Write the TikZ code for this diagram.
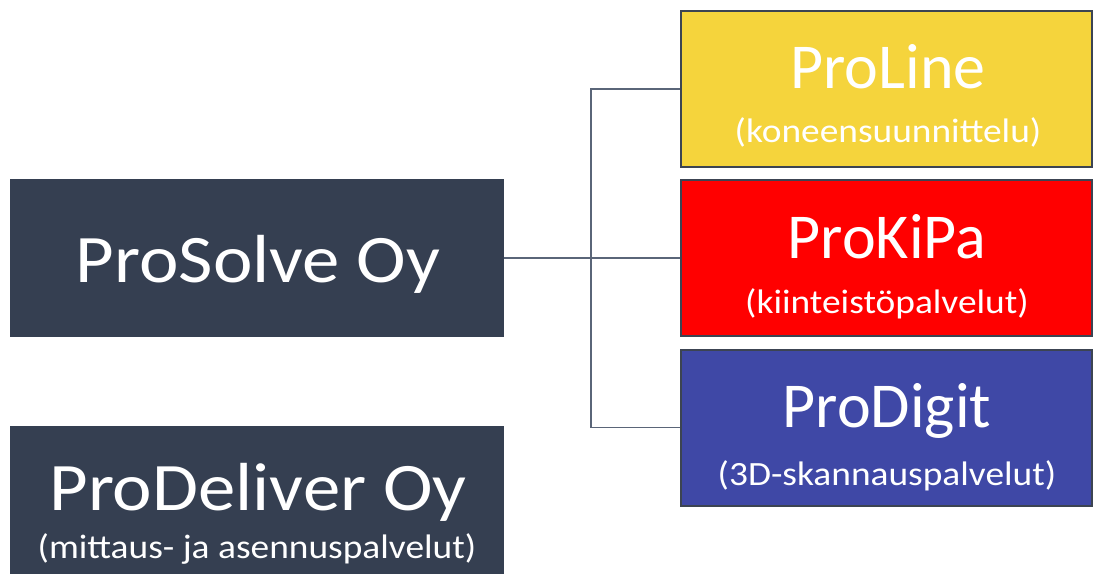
\documentclass[tikz,border=0pt]{standalone}
\usepackage{fontspec}
\setmainfont{Carlito}
\newfontfamily\widecarlito[FakeStretch=1.1]{Carlito}
\usepackage{xcolor}
\usepackage{tikz}

\definecolor{slate}{HTML}{353F51}
\definecolor{frame}{HTML}{3C4452}
\definecolor{wire}{HTML}{5A6578}
\definecolor{lineyellow}{HTML}{F5D43C}
\definecolor{kipared}{HTML}{FF0000}
\definecolor{digitblue}{HTML}{3F48A6}

\begin{document}
\begin{tikzpicture}[x=1pt,y=-1pt,
	company/.style={fill=slate, inner sep=0pt, minimum width=494pt, minimum height=158pt},
	unit/.style={draw=frame, line width=2pt, inner sep=0pt, minimum width=411pt, minimum height=156pt},
	bigname/.style={white, anchor=base, inner sep=0pt, font=\widecarlito\fontsize{68}{72}\selectfont},
	unitname/.style={white, anchor=base, inner sep=0pt, font=\fontsize{64}{70}\selectfont},
	subname/.style={white, anchor=base, inner sep=0pt, font=\widecarlito\fontsize{34}{40}\selectfont},
	wiring/.style={draw=wire, line width=1.5pt}]
		\useasboundingbox (0,0) rectangle (1094,573);
		\clip (0,0) rectangle (1094,573);
		
		% companies
		\node[company] (prosolve) at (257,258) {};
		\node[company] (prodeliver) at (257,505) {};
		\node[bigname] (solvename) at (258,282) {ProSolve Oy};
		\node[bigname] (delivername) at (258,510) {ProDeliver Oy};
		\node[subname] (deliversub) at (257,558) {(mittaus- ja asennuspalvelut)};
		
		% units
		\node[unit, fill=lineyellow] (proline) at (886.5,89) {};
		\node[unit, fill=kipared] (prokipa) at (886.5,258) {};
		\node[unit, fill=digitblue] (prodigit) at (886.5,427.5) {};
		\node[unitname] (linename) at (888,88) {ProLine};
		\node[subname] (linesub) at (888,142) {(koneensuunnittelu)};
		\node[unitname] (kipaname) at (887,258) {ProKiPa};
		\node[subname] (kipasub) at (887,313) {(kiinteistöpalvelut)};
		\node[unitname] (digitname) at (887,427) {ProDigit};
		\node[subname] (digitsub) at (887,485) {(3D-skannauspalvelut)};
		
		% connectors
		\draw[wiring] (prosolve.east) -- (prokipa.west);
		\draw[wiring] (proline.west) -- ++(-89,0) |- (prodigit.west);
	\end{tikzpicture}
\end{document}
